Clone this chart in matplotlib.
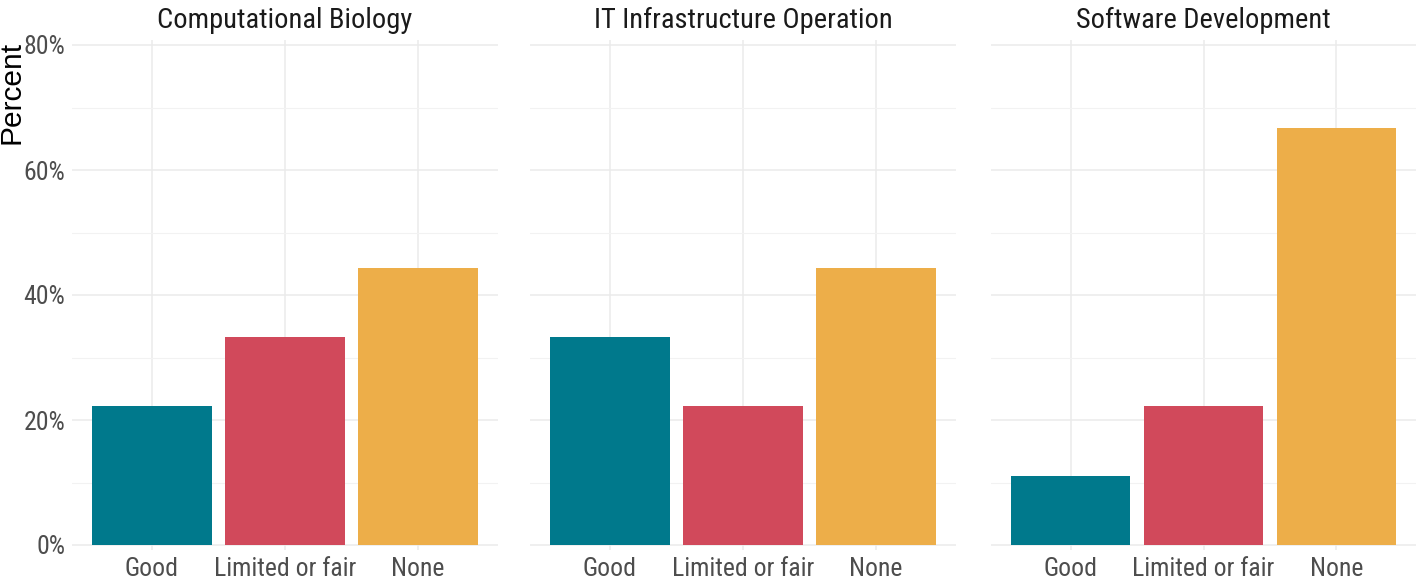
import matplotlib.pyplot as plt
from matplotlib import font_manager
import numpy as np

panels = ["Computational Biology", "IT Infrastructure Operation", "Software Development"]
levels = ["Good", "Limited or fair", "None"]
good = [22.2, 33.3, 11.1]
limited = [33.3, 22.2, 22.2]
none = [44.4, 44.4, 66.7]
colors = ["#00798C", "#D1495B", "#EDAE49"]

names = {f.name for f in font_manager.fontManager.ttflist}
cond = next(f for f in ["Roboto Condensed", "Liberation Sans Narrow", "Roboto"] if f in names)

fig = plt.figure(figsize=(14.16, 5.8), dpi=100)
W, H = 1416, 580
edges = [(72, 498), (530, 956), (991, 1416)]
top, bottom = 40, 550

x = np.arange(1, 4)
for i, (name, (l, r)) in enumerate(zip(panels, edges)):
    ax = fig.add_axes([l / W, 1 - bottom / H, (r - l) / W, (bottom - top) / H])
    vals = [good[i], limited[i], none[i]]
    ax.bar(x, np.array(vals) / 100, width=0.9, color=colors, zorder=3)
    ax.set_xlim(0.4, 3.6)
    ax.set_ylim(-0.008, 0.808)
    ax.set_yticks([0, 0.2, 0.4, 0.6, 0.8])
    ax.set_yticks([0.1, 0.3, 0.5, 0.7], minor=True)
    ax.set_xticks(x)
    ax.set_xticklabels(levels, fontfamily=cond, fontsize=18.5, color="#4d4d4d")
    if i == 0:
        ax.set_yticklabels(["0%", "20%", "40%", "60%", "80%"], fontfamily=cond,
                           fontsize=18.5, color="#4d4d4d")
    else:
        ax.set_yticklabels([])
    ax.tick_params(length=0, pad=5)
    ax.tick_params(axis="y", which="minor", length=0)
    ax.grid(True, which="major", color="#ebebeb", linewidth=1.1, zorder=0)
    ax.grid(True, which="minor", axis="y", color="#f2f2f2", linewidth=0.8, zorder=0)
    for s in ax.spines.values():
        s.set_visible(False)
    ax.set_title(name, fontfamily=cond, fontsize=20.5, color="#1a1a1a", pad=9)

fig.text(12 / W, 1 - 92 / H, "Percent", rotation=90, ha="center", va="center",
         fontfamily="Liberation Sans", fontsize=21.5, color="black")

fig.savefig("out.png", dpi=100)
